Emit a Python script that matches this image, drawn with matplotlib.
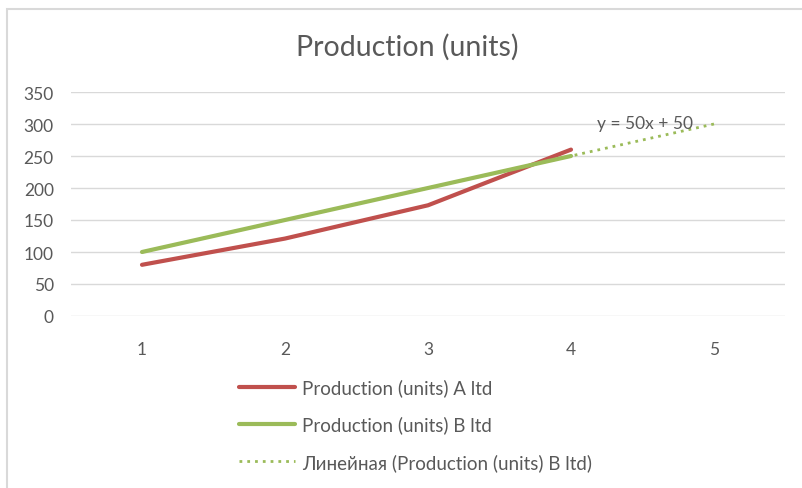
import numpy as np
import matplotlib.pyplot as plt
from matplotlib.patches import Rectangle

plt.rcParams['font.family'] = ['Lato', 'DejaVu Sans']

periods = [1, 2, 3, 4, 5]
prod_a = [80, 121, 173, 260]
prod_b = [100, 150, 200, 250]
yticks = [0, 50, 100, 150, 200, 250, 300, 350]

label_a = 'Production (units) A ltd'
label_b = 'Production (units) B ltd'
label_trend = 'Линейная (Production (units) B ltd)'

red = '#C0504D'
green = '#9BBB59'
grey_txt = '#595959'
grid_col = '#D9D9D9'

# linear trend for B, extended one period forward
k, b = np.polyfit(periods[:len(prod_b)], prod_b, 1)
trend_x = np.array(periods)
trend_y = k * trend_x + b

fig = plt.figure(figsize=(8.03, 4.89), dpi=100)
fig.patches.append(Rectangle((7 / 803, -0.1), 1.0, 1.1 - 10 / 489, transform=fig.transFigure,
                             fill=False, edgecolor='#D9D9D9', linewidth=1.5))

ax = fig.add_axes([70.5 / 803, 1 - 317 / 489, 715 / 803, 224 / 489])
ax.set_xlim(0.5, 5.5)
ax.set_ylim(0, 350)
ax.set_yticks(yticks)
ax.set_xticks(periods)
for s in ax.spines.values():
    s.set_visible(False)
ax.grid(axis='y', color=grid_col, linewidth=1)
ax.set_axisbelow(True)
ax.tick_params(length=0, labelsize=12.5, labelcolor=grey_txt)
ax.tick_params(axis='x', pad=18)
ax.tick_params(axis='y', pad=12)

ax.plot(periods[:len(prod_a)], prod_a, color=red, linewidth=3, solid_capstyle='round',
        solid_joinstyle='round', label=label_a)
ax.plot(periods[:len(prod_b)], prod_b, color=green, linewidth=3, solid_capstyle='round',
        solid_joinstyle='round', label=label_b, zorder=3)
ax.plot(trend_x, trend_y, color=green, linewidth=2, linestyle=(0, (1, 1.8)), label=label_trend, zorder=2)

ax.text(4.52, 301, 'y = %gx + %g' % (round(k), round(b)), fontsize=12.5, color=grey_txt,
        ha='center', va='center')

fig.text(407 / 803, 1 - 47 / 489, 'Production (units)', fontsize=20.5, color=grey_txt,
         ha='center', va='center')

leg = ax.legend(loc='upper left', bbox_to_anchor=(230 / 803, 1 - 370 / 489),
                bbox_transform=fig.transFigure, frameon=False, fontsize=13.5,
                handlelength=2.95, handletextpad=0.4, labelspacing=1.03, borderpad=0)
for t in leg.get_texts():
    t.set_color(grey_txt)

fig.savefig('out.png', dpi=100)
